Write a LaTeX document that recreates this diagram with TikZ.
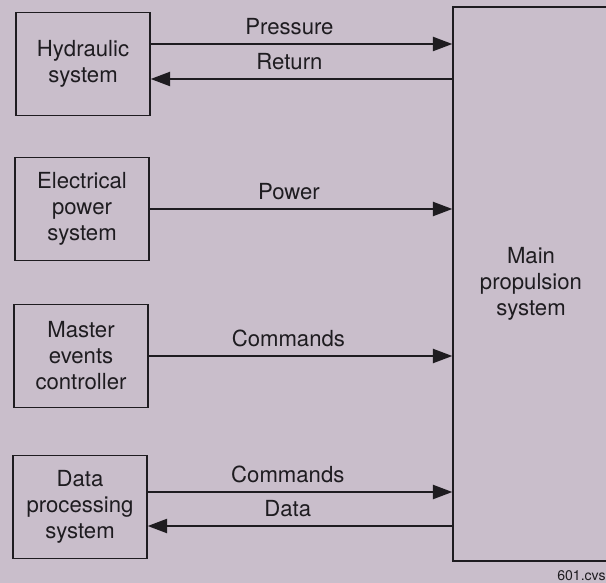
\documentclass[tikz,border=0pt]{standalone}
\usepackage{fontspec}
\setmainfont{TeX Gyre Heros}
\usepackage{xcolor}
\usepackage{tikz}
\usetikzlibrary{arrows.meta,positioning,calc}
\definecolor{paper}{RGB}{201,190,203}
\definecolor{ink}{RGB}{30,28,32}
\tikzset{
  flow/.style={-{Triangle[length=11pt, width=8pt]}, line width=1.1pt, ink},
  blk/.style={rectangle, draw=ink, line width=0.8pt, minimum width=26.8mm, minimum height=20.6mm, align=center, text=ink, font=\fontsize{12.6}{14.8}\selectfont},
  mainblk/.style={blk, minimum width=31.2mm, minimum height=110.8mm},
  lbl/.style={above, pos=0.46, text=ink, text depth=.25ex, font=\fontsize{12.6}{14.8}\selectfont},
}

\begin{document}
\begin{tikzpicture}[x=0.2mm, y=-0.2mm]
\useasboundingbox (0,0) rectangle (606,583);
\fill[paper] (0,0) rectangle (606,583);
% --- source blocks (left column) ---
\node[blk] (hyd)  at (83,64)  {Hydraulic\\system};
\node[blk] (elec) at (82,209) {Electrical\\power\\system};
\node[blk] (mec)  at (81,356) {Master\\events\\controller};
\node[blk] (dps)  at (80,507) {Data\\processing\\system};
% --- main propulsion block (runs off the right edge) ---
\node[mainblk] (mps) at (531,284) {Main\\propulsion\\system};
% --- hydraulic: pressure out, return back ---
\draw[flow] ([yshift=4mm]hyd.east) -- ([yshift=4mm]hyd.east -| mps.west) node[lbl] {Pressure};
\draw[flow] ([yshift=-3mm]hyd.east -| mps.west) -- ([yshift=-3mm]hyd.east) node[lbl, pos=0.54] {Return};
% --- power and commands ---
\draw[flow] (elec.east) -- (elec.east -| mps.west) node[lbl] {Power};
\draw[flow] (mec.east) -- (mec.east -| mps.west) node[lbl] {Commands};
% --- data processing: commands out, data back ---
\draw[flow] ([yshift=3mm]dps.east) -- ([yshift=3mm]dps.east -| mps.west) node[lbl] {Commands};
\draw[flow] ([yshift=-3.8mm]dps.east -| mps.west) -- ([yshift=-3.8mm]dps.east) node[lbl, pos=0.54] {Data};
% --- figure tag ---
\node[anchor=base east, inner sep=0pt, text=ink, font=\fontsize{8}{9}\selectfont] (tag) at (606,580) {601.cvs};
\end{tikzpicture}
\end{document}
